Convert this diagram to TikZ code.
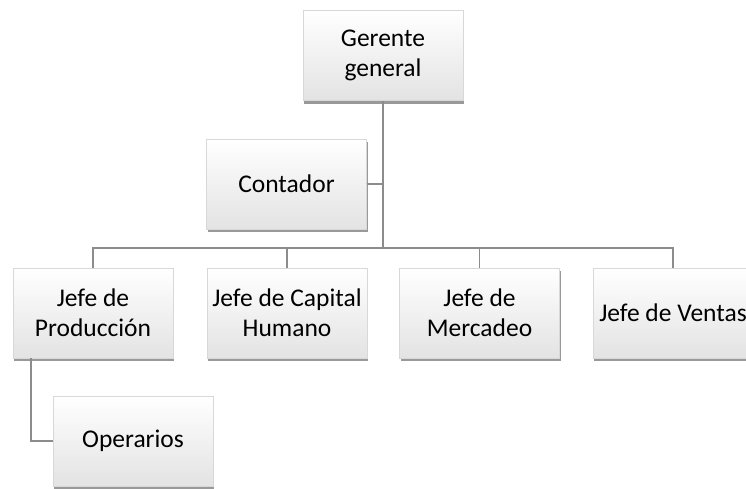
\documentclass[tikz,border=0pt]{standalone}
\usepackage{fontspec}
\setmainfont{Carlito}
\usetikzlibrary{shadows}
\definecolor{linegray}{HTML}{8C8C8C}
\definecolor{boxline}{HTML}{D8D8D8}
\tikzset{
	node_box/.style = {
		rectangle,
		align=center,
		inner sep=0pt,
		minimum width=160pt,
		minimum height=90pt,
		font=\fontsize{25.5}{30}\selectfont,
		draw=boxline,
		top color=white,
		bottom color=black!11,
		drop shadow={shadow xshift=1pt, shadow yshift=-3pt, fill=black, opacity=0.4}
	},
	link/.style = {
		draw=linegray,
		line width=1.4pt
	},
}

\begin{document}
\begin{tikzpicture}[x=1pt, y=-1pt]
\useasboundingbox (0,0) rectangle (746,488);
\node [node_box] (gerente) at (383,55.5) {Gerente\\general};
\node [node_box] (contador) at (286.5,184) {Contador};
\node [node_box] (produccion) at (93,313) {Jefe de\\Producción};
\node [node_box] (capital) at (287,313) {Jefe de Capital\\Humano};
\node [node_box] (mercadeo) at (479.5,313) {Jefe de\\Mercadeo};
\node [node_box] (ventas) at (673,313) {Jefe de Ventas};
\node [node_box] (operarios) at (133,441) {Operarios};
\coordinate (bar) at (383,248);
% lineas
\draw [link] (gerente.south) -- (bar);
\draw [link] (contador.east) -- (contador.east -| bar);
\draw [link] (produccion.north) |- (bar) -| (ventas.north);
\draw [link] (capital.north) -- (capital.north |- bar);
\draw [link] (mercadeo.north) -- (mercadeo.north |- bar);
\draw [link] ([xshift=18pt]produccion.south west) |- (operarios.west);
\end{tikzpicture}
\end{document}
